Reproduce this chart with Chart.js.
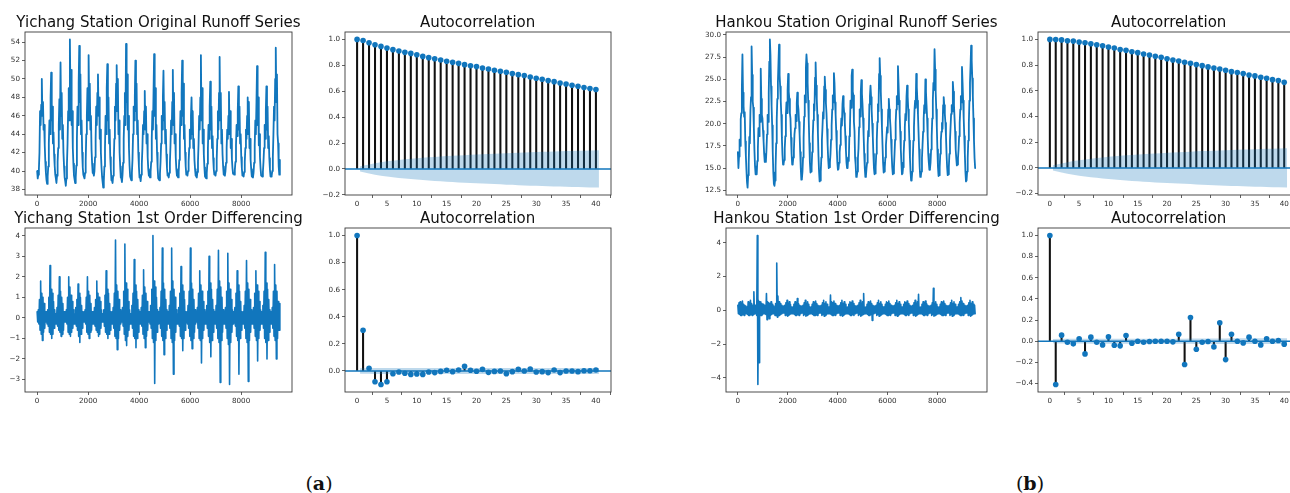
<!DOCTYPE html>
<html>
<head>
<meta charset="utf-8">
<script src="https://cdn.jsdelivr.net/npm/chart.js@4/dist/chart.umd.min.js"></script>
<style>
  html, body { margin: 0; padding: 0; background: #fff; }
  body { width: 1290px; height: 493px; position: relative; overflow: hidden; }
  canvas { position: absolute; }
  .ttl { position: absolute; font-family: "DejaVu Sans"; font-size: 15px; line-height: 15px; color: #111;
         white-space: nowrap; transform: translateX(-50%); }
  .cap { position: absolute; font-family: "DejaVu Serif"; font-size: 19px; line-height: 19px; color: #111;
         white-space: nowrap; transform: translateX(-50%); }
</style>
</head>
<body>
<script>
// ---------------- daily runoff series (16 samples per year, one year per line) ----------------
const SERIES_SPAN = 9520; // days covered by each daily series

const yichangRunoff = [
  40.0, 39.2, 39.6, 40.2, 42.0, 46.5, 45.0, 47.2, 50.0, 46.0, 47.5, 44.5, 45.0, 42.8, 41.0, 39.8,
  39.0, 38.6, 39.4, 40.5, 43.0, 45.5, 44.0, 48.0, 50.7, 45.5, 47.0, 43.0, 44.2, 41.8, 40.6, 39.6,
  39.2, 38.7, 39.5, 41.0, 42.5, 45.0, 47.8, 44.5, 51.8, 46.0, 48.5, 43.5, 45.0, 42.0, 40.5, 39.3,
  38.9, 38.4, 39.2, 40.8, 43.0, 46.5, 49.0, 45.5, 54.3, 48.0, 51.0, 45.0, 46.5, 42.5, 40.8, 39.5,
  39.1, 38.7, 39.3, 40.6, 43.5, 47.0, 45.0, 49.5, 53.6, 47.5, 50.5, 44.0, 45.5, 42.0, 40.4, 39.6,
  39.6, 39.2, 39.8, 41.0, 44.0, 46.0, 49.0, 45.5, 52.6, 47.0, 49.5, 44.5, 46.0, 42.3, 40.8, 39.8,
  39.8, 39.5, 40.0, 41.5, 43.5, 47.0, 45.0, 48.5, 50.5, 46.0, 48.0, 43.5, 44.5, 42.0, 40.5, 39.4,
  38.8, 38.2, 38.9, 40.5, 42.5, 46.0, 44.0, 49.0, 51.6, 45.5, 48.0, 43.0, 44.5, 41.5, 40.2, 39.0,
  39.0, 38.7, 39.5, 41.0, 43.5, 47.0, 45.5, 49.5, 51.5, 46.5, 50.0, 44.0, 45.5, 42.0, 40.5, 39.3,
  39.2, 38.8, 39.6, 40.9, 43.5, 46.0, 48.5, 45.0, 53.8, 47.5, 50.5, 44.5, 46.0, 42.5, 40.6, 39.4,
  39.4, 39.0, 39.8, 41.2, 44.0, 47.0, 45.5, 48.0, 52.0, 46.5, 49.5, 44.0, 45.5, 42.0, 40.5, 39.3,
  39.3, 38.9, 39.6, 40.8, 42.5, 45.0, 44.0, 46.5, 48.7, 44.5, 47.0, 43.0, 44.0, 41.5, 40.2, 39.5,
  39.6, 39.3, 39.9, 41.0, 43.5, 46.5, 44.5, 48.5, 52.7, 46.0, 49.0, 43.5, 45.0, 42.0, 40.4, 39.2,
  39.2, 39.0, 39.7, 41.0, 43.0, 46.0, 44.5, 48.0, 50.9, 45.5, 47.5, 43.0, 44.5, 41.8, 40.3, 39.5,
  39.6, 39.3, 39.8, 40.9, 42.8, 45.5, 44.0, 47.5, 51.0, 45.0, 48.5, 43.0, 44.0, 41.5, 40.2, 39.5,
  39.5, 39.3, 39.9, 41.2, 43.5, 46.5, 45.0, 48.5, 52.0, 46.0, 49.5, 43.5, 45.0, 42.0, 40.5, 39.6,
  39.7, 39.5, 40.0, 41.0, 42.5, 44.5, 43.5, 46.0, 48.0, 44.0, 46.5, 42.5, 43.5, 41.2, 40.2, 39.5,
  39.4, 39.3, 39.9, 41.0, 43.0, 46.0, 44.5, 48.0, 52.6, 45.5, 49.0, 43.0, 44.5, 41.8, 40.4, 39.4,
  39.3, 39.2, 39.8, 40.8, 42.5, 45.0, 43.5, 47.0, 49.7, 44.5, 47.0, 42.5, 43.8, 41.4, 40.2, 39.6,
  39.7, 39.5, 40.0, 41.2, 43.5, 46.5, 44.5, 48.5, 52.4, 45.5, 48.5, 43.0, 44.5, 41.8, 40.5, 39.6,
  39.6, 39.5, 40.0, 40.9, 42.5, 44.5, 43.5, 46.0, 48.6, 44.0, 46.5, 42.5, 43.5, 41.3, 40.3, 39.7,
  39.8, 39.6, 40.1, 41.0, 42.8, 45.0, 43.8, 46.5, 49.2, 44.5, 47.0, 43.0, 44.0, 41.5, 40.3, 39.5,
  39.5, 39.4, 39.9, 41.0, 42.5, 44.5, 43.5, 46.0, 48.0, 44.0, 47.5, 42.5, 43.5, 41.2, 40.2, 39.4,
  39.4, 39.3, 39.8, 40.9, 42.8, 45.5, 44.0, 47.5, 51.4, 45.0, 48.0, 42.8, 44.0, 41.5, 40.3, 39.5,
  39.5, 39.4, 39.9, 41.0, 42.5, 45.0, 43.5, 46.5, 49.2, 44.5, 47.0, 42.5, 43.8, 41.4, 40.2, 39.4,
  39.4, 39.5, 40.0, 41.5, 44.0, 47.0, 45.5, 50.0, 53.4, 47.5, 50.5, 44.0, 43.0, 40.5, 39.6, 41.2
];

const yichangDiff = [
  0.3, -0.2, 0.4, -0.3, 0.9, -0.6, 1.8, -0.8, 1.2, -1.1, 1.0, -0.7, 0.7, -0.5, 0.3, -0.2,
  0.3, -0.3, 0.4, -0.4, 1.0, -0.7, 2.55, -0.8, 1.4, -1.0, 1.2, -0.8, 0.8, -0.5, 0.4, -0.3,
  0.2, -0.3, 0.5, -0.4, 1.1, -0.6, 2.0, -0.7, 1.3, -0.9, 1.0, -0.8, 0.7, -0.6, 0.3, -0.2,
  0.3, -0.2, 0.4, -0.3, 1.0, -0.7, 2.0, -0.8, 1.5, -0.9, 1.1, -0.7, 0.8, -0.5, 0.4, -0.3,
  0.2, -0.3, 0.5, -0.4, 0.9, -0.6, 1.65, -0.9, 1.2, -1.2, 1.0, -0.8, 0.6, -0.5, 0.3, -0.2,
  0.3, -0.2, 0.4, -0.3, 1.0, -0.7, 2.0, -0.8, 1.3, -1.0, 1.1, -0.7, 0.7, -0.6, 0.3, -0.3,
  0.3, -0.3, 0.5, -0.4, 0.9, -0.6, 1.8, -0.7, 1.2, -0.9, 1.0, -0.8, 0.8, -0.5, 0.4, -0.2,
  0.2, -0.2, 0.4, -0.4, 1.1, -0.7, 2.3, -0.8, 1.4, -1.0, 1.2, -0.8, 0.7, -0.6, 0.3, -0.3,
  0.3, -0.3, 0.5, -0.5, 1.2, -0.9, 3.8, -1.0, 1.6, -1.55, 1.3, -1.0, 0.9, -0.6, 0.4, -0.3,
  0.3, -0.2, 0.5, -0.4, 1.3, -0.8, 3.6, -1.1, 1.7, -1.35, 1.4, -0.9, 0.8, -0.6, 0.4, -0.3,
  0.2, -0.3, 0.6, -0.5, 1.2, -0.9, 2.85, -1.0, 1.6, -1.45, 1.3, -1.0, 0.9, -0.7, 0.4, -0.3,
  0.3, -0.3, 0.5, -0.4, 1.1, -0.8, 2.35, -1.0, 1.5, -1.45, 1.2, -0.9, 0.8, -0.6, 0.3, -0.2,
  0.3, -0.3, 0.6, -0.5, 1.4, -1.0, 4.02, -1.2, 1.8, -3.2, 1.5, -1.1, 1.0, -0.7, 0.4, -0.3,
  0.3, -0.2, 0.5, -0.5, 1.3, -0.9, 3.4, -1.1, 1.7, -1.8, 1.4, -1.0, 0.9, -0.6, 0.4, -0.3,
  0.3, -0.3, 0.6, -0.5, 1.3, -1.0, 3.4, -1.2, 1.8, -2.75, 1.4, -1.1, 1.0, -0.7, 0.4, -0.3,
  0.2, -0.3, 0.5, -0.4, 1.2, -0.9, 2.5, -1.0, 1.6, -1.6, 1.3, -1.0, 0.9, -0.6, 0.3, -0.2,
  0.3, -0.3, 0.6, -0.5, 1.3, -0.9, 3.4, -1.1, 1.7, -1.5, 1.4, -1.0, 0.9, -0.7, 0.4, -0.3,
  0.3, -0.2, 0.5, -0.5, 1.2, -1.0, 2.3, -1.1, 1.6, -2.2, 1.3, -1.0, 0.8, -0.6, 0.4, -0.3,
  0.3, -0.3, 0.6, -0.5, 1.3, -0.9, 3.0, -1.2, 1.7, -1.9, 1.4, -1.1, 0.9, -0.7, 0.4, -0.3,
  0.3, -0.3, 0.6, -0.5, 1.4, -1.0, 3.3, -1.2, 1.8, -3.15, 1.5, -1.1, 1.0, -0.7, 0.4, -0.3,
  0.3, -0.3, 0.5, -0.5, 1.3, -1.0, 3.15, -1.3, 1.7, -3.25, 1.4, -1.2, 0.9, -0.7, 0.4, -0.3,
  0.3, -0.2, 0.5, -0.4, 1.2, -0.9, 2.3, -1.1, 1.6, -2.75, 1.3, -1.0, 0.8, -0.6, 0.3, -0.3,
  0.3, -0.3, 0.6, -0.5, 1.3, -1.0, 2.8, -1.2, 1.7, -3.1, 1.4, -1.1, 0.9, -0.7, 0.4, -0.3,
  0.3, -0.3, 0.5, -0.5, 1.2, -0.9, 2.3, -1.1, 1.6, -2.1, 1.3, -1.0, 0.8, -0.6, 0.4, -0.3,
  0.3, -0.3, 0.6, -0.5, 1.3, -1.0, 3.2, -1.2, 1.7, -2.0, 1.4, -1.1, 0.9, -0.7, 0.4, -0.3,
  0.3, -0.3, 0.5, -0.5, 1.3, -0.9, 2.6, -1.1, 1.6, -2.0, 1.3, -1.0, 0.8, -0.6, 0.7, -0.6
];

const hankouRunoff = [
  16.8, 15.0, 16.3, 18.2, 17.5, 20.5, 21.2, 24.0, 27.8, 23.5, 22.0, 20.8, 21.3, 18.0, 16.4, 14.8,
  13.4, 12.8, 14.2, 15.6, 18.5, 17.8, 21.5, 23.0, 28.7, 25.5, 22.5, 21.8, 19.5, 17.0, 15.2, 14.3,
  14.6, 14.3, 15.8, 17.2, 19.5, 18.6, 21.0, 20.2, 26.2, 22.8, 21.0, 20.6, 19.2, 18.0, 16.6, 15.7,
  16.1, 15.7, 17.0, 18.8, 21.0, 20.2, 23.5, 27.0, 29.5, 27.8, 24.2, 22.0, 19.8, 16.8, 14.5, 13.2,
  13.0, 13.6, 15.2, 17.8, 20.5, 22.8, 24.6, 26.8, 28.9, 25.5, 24.2, 22.6, 21.0, 18.4, 16.5, 15.4,
  15.5, 15.9, 17.2, 18.6, 21.0, 22.4, 21.2, 23.8, 25.6, 23.6, 22.8, 21.2, 20.6, 18.4, 16.6, 15.4,
  15.5, 16.2, 17.0, 18.8, 19.5, 21.0, 20.3, 22.3, 23.5, 22.2, 21.6, 20.2, 18.8, 16.8, 15.0, 13.7,
  13.8, 14.6, 16.2, 18.4, 20.8, 23.2, 22.4, 26.3, 27.8, 26.8, 24.6, 22.6, 20.4, 17.8, 15.6, 14.5,
  14.6, 15.1, 16.8, 18.6, 20.4, 22.2, 21.5, 25.2, 26.9, 24.3, 22.8, 21.0, 19.0, 16.4, 14.6, 13.5,
  13.6, 14.6, 16.2, 18.2, 19.6, 21.3, 20.6, 24.2, 25.3, 23.8, 22.3, 21.2, 19.4, 17.6, 16.0, 15.0,
  15.1, 15.6, 16.6, 18.2, 19.8, 21.6, 23.2, 22.4, 25.7, 24.6, 22.4, 21.0, 19.2, 17.2, 15.6, 14.8,
  14.9, 15.6, 16.8, 17.6, 19.2, 20.6, 19.8, 22.2, 23.1, 22.0, 21.2, 20.2, 18.6, 17.0, 15.6, 15.0,
  15.1, 16.2, 15.8, 18.6, 19.4, 22.6, 21.8, 25.4, 26.1, 23.6, 23.2, 20.2, 19.2, 16.2, 15.4, 14.0,
  14.1, 14.6, 16.1, 17.2, 19.6, 21.6, 20.8, 23.6, 24.9, 23.4, 22.2, 20.6, 18.6, 16.6, 15.0, 14.0,
  14.1, 15.0, 15.6, 17.6, 19.2, 18.6, 22.2, 23.1, 24.3, 23.0, 21.6, 20.0, 18.6, 16.6, 15.0, 14.3,
  14.4, 15.1, 16.6, 18.2, 20.2, 22.2, 21.4, 25.6, 27.4, 25.4, 23.6, 21.6, 19.6, 17.6, 15.6, 14.5,
  14.6, 15.1, 16.2, 17.6, 18.6, 19.6, 19.0, 21.6, 22.8, 21.6, 20.6, 19.6, 18.2, 16.6, 15.1, 14.3,
  14.4, 15.1, 16.6, 18.2, 20.1, 21.6, 23.1, 22.2, 26.5, 24.6, 22.6, 21.1, 19.1, 17.1, 15.6, 14.3,
  14.4, 15.1, 16.6, 18.1, 19.6, 21.1, 20.4, 23.1, 24.3, 23.1, 21.6, 20.1, 18.1, 16.1, 14.6, 13.6,
  13.7, 14.6, 16.1, 18.1, 19.6, 21.6, 22.6, 21.8, 25.6, 24.1, 22.6, 21.1, 19.1, 17.1, 15.1, 14.0,
  14.1, 14.6, 16.1, 17.6, 19.1, 20.6, 22.1, 21.2, 25.0, 23.6, 22.1, 20.6, 18.6, 16.6, 15.6, 14.8,
  14.9, 15.6, 17.1, 18.6, 20.6, 22.6, 24.6, 23.8, 28.4, 26.1, 23.6, 21.6, 19.6, 17.1, 15.1, 14.1,
  14.2, 15.1, 16.6, 18.1, 19.1, 20.1, 19.4, 22.1, 23.0, 22.1, 21.1, 20.1, 18.6, 16.6, 15.1, 14.2,
  14.3, 15.1, 16.6, 18.1, 19.6, 21.1, 22.1, 21.4, 24.7, 23.6, 22.1, 20.6, 19.1, 17.1, 16.1, 15.3,
  15.4, 16.1, 17.1, 18.6, 20.1, 21.6, 23.1, 22.4, 26.4, 24.6, 22.6, 20.6, 18.6, 16.6, 14.6, 13.5,
  13.6, 14.6, 16.1, 18.1, 20.1, 22.6, 24.6, 26.6, 28.8, 27.1, 25.1, 23.1, 20.6, 18.1, 16.1, 15.0
];

const hankouDiff = [
  0.3, -0.2, 0.45, -0.25, 0.5, -0.3, 0.4, -0.3, 0.55, -0.25, 0.35, -0.3, 0.3, -0.2, 0.25, -0.2,
  0.2, -0.25, 0.5, -0.3, 0.45, -0.3, 0.6, -0.25, 0.4, -0.3, 0.3, -0.25, 1.1, -0.2, 0.3, -0.2,
  0.3, -0.3, 4.43, -4.39, 0.6, -3.1, 0.5, -0.3, 0.5, -0.3, 0.4, -0.25, 0.35, -0.2, 0.3, -0.2,
  0.25, -0.25, 1.0, -0.55, 0.5, -0.3, 0.45, -0.5, 0.4, -0.3, 0.5, -0.25, 0.35, -0.2, 0.25, -0.2,
  0.2, -0.3, 0.4, -0.3, 2.8, -0.4, 0.85, -0.3, 0.5, -0.3, 0.4, -0.25, 0.3, -0.2, 0.25, -0.15,
  0.25, -0.15, 0.3, -0.3, 0.45, -0.25, 0.6, -0.35, 0.4, -0.3, 0.5, -0.25, 0.35, -0.2, 0.2, -0.2,
  0.2, -0.2, 0.35, -0.25, 0.5, -0.3, 0.45, -0.3, 0.7, -0.25, 0.4, -0.3, 0.3, -0.2, 0.25, -0.15,
  0.25, -0.15, 0.3, -0.3, 0.45, -0.25, 0.6, -0.35, 0.4, -0.3, 0.5, -0.25, 0.35, -0.2, 0.2, -0.2,
  0.2, -0.2, 0.35, -0.25, 0.5, -0.3, 0.45, -0.3, 0.55, -0.25, 0.4, -0.3, 0.3, -0.2, 0.25, -0.15,
  0.25, -0.15, 0.3, -0.3, 0.45, -0.25, 0.6, -0.35, 0.4, -0.3, 0.5, -0.25, 0.35, -0.2, 0.2, -0.2,
  0.2, -0.2, 0.9, -0.25, 0.5, -0.3, 0.45, -0.3, 0.55, -0.25, 0.4, -0.3, 0.3, -0.2, 0.25, -0.15,
  0.25, -0.15, 0.3, -0.3, 0.45, -0.25, 0.6, -0.35, 0.4, -0.3, 0.5, -0.25, 0.35, -0.2, 0.2, -0.2,
  0.2, -0.2, 0.35, -0.25, 0.5, -0.3, 0.45, -0.3, 0.55, -0.25, 0.4, -0.3, 0.3, -0.2, 0.25, -0.15,
  0.25, -0.15, 0.3, -0.3, 0.45, -0.25, 0.6, -0.35, 0.4, -0.3, 0.5, -0.25, 1.0, -0.2, 0.2, -0.2,
  0.2, -0.2, 0.35, -0.25, 0.5, -0.3, 0.45, -0.3, 0.55, -0.25, 0.4, -0.6, 0.3, -0.2, 0.25, -0.15,
  0.25, -0.15, 0.3, -0.3, 0.45, -0.25, 0.6, -0.35, 0.4, -0.3, 0.5, -0.25, 0.35, -0.2, 0.2, -0.2,
  0.2, -0.2, 0.35, -0.25, 0.5, -0.3, 0.45, -0.3, 0.55, -0.25, 0.4, -0.3, 0.3, -0.2, 0.25, -0.15,
  0.25, -0.15, 0.3, -0.3, 0.45, -0.25, 0.6, -0.35, 0.4, -0.3, 0.5, -0.25, 0.35, -0.2, 0.2, -0.2,
  0.2, -0.2, 0.35, -0.25, 0.5, -0.3, 0.45, -0.3, 0.55, -0.25, 0.4, -0.3, 0.3, -0.2, 0.25, -0.15,
  0.25, -0.15, 0.3, -0.3, 0.45, -0.25, 0.6, -0.35, 0.4, -0.3, 0.5, -0.25, 0.95, -0.2, 0.2, -0.2,
  0.2, -0.2, 0.35, -0.25, 0.5, -0.3, 0.45, -0.3, 0.55, -0.25, 0.4, -0.3, 0.3, -0.2, 0.25, -0.15,
  0.25, -0.15, 0.3, -0.3, 0.45, -0.25, 1.3, -0.35, 0.4, -0.3, 0.5, -0.25, 0.35, -0.2, 0.2, -0.2,
  0.2, -0.2, 0.35, -0.25, 0.5, -0.3, 0.45, -0.3, 0.55, -0.25, 0.4, -0.3, 0.3, -0.2, 0.25, -0.15,
  0.25, -0.15, 0.3, -0.3, 0.45, -0.25, 0.6, -0.35, 0.4, -0.3, 0.5, -0.25, 0.35, -0.2, 0.2, -0.2,
  0.2, -0.2, 0.35, -0.25, 0.5, -0.3, 0.75, -0.3, 0.55, -0.25, 0.4, -0.3, 0.3, -0.2, 0.25, -0.15,
  0.25, -0.15, 0.3, -0.3, 0.45, -0.25, 0.6, -0.35, 0.4, -0.3, 0.5, -0.25, 0.35, -0.2, 0.3, -0.2
];

// ---------------- autocorrelation (lags 0..40) and confidence half-widths (lags 1..40) ----------------
const lags = [0,1,2,3,4,5,6,7,8,9,10,11,12,13,14,15,16,17,18,19,20,21,22,23,24,25,26,27,28,29,30,31,32,33,34,35,36,37,38,39,40];

const yichangRunoffAcf = [1.000, 0.992, 0.974, 0.959, 0.946, 0.933, 0.921, 0.910, 0.900, 0.892, 0.882, 0.869, 0.859, 0.851,
  0.841, 0.831, 0.823, 0.815, 0.805, 0.797, 0.790, 0.779, 0.772, 0.762, 0.754, 0.746, 0.736, 0.728, 0.721, 0.710, 0.700,
  0.692, 0.682, 0.674, 0.664, 0.656, 0.646, 0.638, 0.628, 0.621, 0.613];
const yichangRunoffConf = [0.020, 0.035, 0.044, 0.052, 0.059, 0.064, 0.069, 0.074, 0.078, 0.082, 0.086, 0.090, 0.093, 0.096,
  0.099, 0.101, 0.104, 0.106, 0.109, 0.111, 0.113, 0.115, 0.117, 0.119, 0.122, 0.123, 0.125, 0.127, 0.129, 0.130, 0.132,
  0.133, 0.135, 0.136, 0.138, 0.139, 0.140, 0.141, 0.143, 0.144];

const yichangDiffAcf = [1.000, 0.301, 0.020, -0.079, -0.100, -0.079, -0.020, -0.007, -0.017, -0.025, -0.022, -0.025, -0.007,
  -0.012, -0.003, 0.005, -0.005, 0.007, 0.035, 0.005, -0.002, 0.012, -0.010, -0.003, 0.000, -0.020, -0.005, 0.012, 0.000,
  0.015, -0.007, -0.005, -0.012, 0.007, -0.012, 0.000, 0.000, -0.005, 0.002, 0.002, 0.007];
const yichangDiffConf = [0.020, 0.021, 0.022, 0.022, 0.022, 0.022, 0.022, 0.022, 0.022, 0.022, 0.022, 0.022, 0.022, 0.022,
  0.022, 0.022, 0.022, 0.022, 0.022, 0.022, 0.022, 0.022, 0.022, 0.022, 0.022, 0.022, 0.022, 0.022, 0.022, 0.022, 0.022,
  0.022, 0.022, 0.022, 0.022, 0.022, 0.022, 0.022, 0.022, 0.022];

const hankouRunoffAcf = [1.000, 0.999, 0.996, 0.990, 0.987, 0.979, 0.974, 0.966, 0.959, 0.951, 0.941, 0.933, 0.922, 0.915,
  0.904, 0.897, 0.886, 0.879, 0.868, 0.861, 0.850, 0.840, 0.832, 0.822, 0.814, 0.804, 0.796, 0.786, 0.778, 0.770, 0.760,
  0.749, 0.742, 0.734, 0.723, 0.716, 0.705, 0.698, 0.687, 0.680, 0.666];
const hankouRunoffConf = [0.020, 0.035, 0.045, 0.053, 0.060, 0.066, 0.072, 0.077, 0.082, 0.086, 0.090, 0.094, 0.098, 0.101,
  0.104, 0.107, 0.110, 0.113, 0.115, 0.118, 0.120, 0.122, 0.124, 0.126, 0.129, 0.131, 0.132, 0.134, 0.136, 0.138, 0.140,
  0.141, 0.143, 0.144, 0.146, 0.147, 0.149, 0.150, 0.151, 0.153];

const hankouDiffAcf = [1.000, -0.410, 0.057, -0.010, -0.025, 0.022, -0.120, 0.038, -0.010, -0.035, 0.041, -0.038, -0.044,
  0.054, -0.019, 0.000, -0.010, -0.003, 0.000, 0.000, 0.000, -0.006, 0.066, -0.221, 0.224, -0.076, -0.010, -0.003, -0.054,
  0.174, -0.174, 0.066, 0.000, -0.016, 0.038, 0.000, -0.035, 0.022, 0.000, 0.006, -0.028];
const hankouDiffConf = [0.020, 0.023, 0.023, 0.023, 0.023, 0.023, 0.024, 0.024, 0.024, 0.024, 0.024, 0.024, 0.024, 0.024,
  0.024, 0.024, 0.024, 0.024, 0.024, 0.024, 0.024, 0.024, 0.024, 0.025, 0.026, 0.026, 0.026, 0.026, 0.026, 0.026, 0.027,
  0.027, 0.027, 0.027, 0.027, 0.027, 0.027, 0.027, 0.027, 0.027];

// ---------------- tick labels ----------------
const dayTicks = [0, 2000, 4000, 6000, 8000];
const lagTicks = [0, 5, 10, 15, 20, 25, 30, 35, 40];
const yichangRunoffTicks = [38, 40, 42, 44, 46, 48, 50, 52, 54];
const yichangDiffTicks = [-3, -2, -1, 0, 1, 2, 3, 4];
const hankouRunoffTicks = [12.5, 15.0, 17.5, 20.0, 22.5, 25.0, 27.5, 30.0];
const hankouDiffTicks = [-4, -2, 0, 2, 4];
const acfLevelTicks = [-0.2, 0.0, 0.2, 0.4, 0.6, 0.8, 1.0];
const yichangDiffAcfTicks = [0.0, 0.2, 0.4, 0.6, 0.8, 1.0];
const hankouDiffAcfTicks = [-0.4, -0.2, 0.0, 0.2, 0.4, 0.6, 0.8, 1.0];

// ---------------- drawing ----------------
const BLUE = '#1176bd';
const BAND = 'rgba(22,119,187,0.28)';
const FONT = 'DejaVu Sans';

function fmt(v, d) {
  const s = Math.abs(v).toFixed(d);
  return v < -1e-9 ? '\u2212' + s : s;
}
function padRange(lo, hi) {
  const m = (hi - lo) * 0.05;
  return [lo - m, hi + m];
}

// axes frame on all four sides
const framePlugin = {
  id: 'frame',
  afterDatasetsDraw(chart) {
    const a = chart.chartArea, c = chart.ctx;
    c.save();
    c.strokeStyle = '#3a3a3a';
    c.lineWidth = 0.9;
    c.strokeRect(a.left, a.top, a.right - a.left, a.bottom - a.top);
    c.restore();
  }
};

function addText(cls, text, x, top) {
  const d = document.createElement('div');
  d.className = cls;
  d.innerHTML = text;
  d.style.left = x + 'px';
  d.style.top = top + 'px';
  document.body.appendChild(d);
}

function makePanel(box, title, datasets, xRange, yRange, xTicks, yTicks, yDec) {
  const PADL = 40, PADT = 8, PADR = 4, PADB = 20;
  const w = Math.round(box.r - box.l), h = Math.round(box.b - box.t);
  const cv = document.createElement('canvas');
  cv.width = w + PADL + PADR;
  cv.height = h + PADT + PADB;
  cv.style.left = (box.l - PADL) + 'px';
  cv.style.top = (box.t - PADT) + 'px';
  document.body.appendChild(cv);
  addText('ttl', title, box.l + w / 2, box.t - 4.3 - 12.7);

  const tickFont = { family: FONT, size: 7.2 };
  const axis = (range, ticks, dec, fit) => ({
    type: 'linear', min: range[0], max: range[1], offset: false,
    border: { display: false },
    grid: { drawOnChartArea: false, drawTicks: true, tickLength: 3, color: '#3a3a3a', lineWidth: 0.8 },
    ticks: { font: tickFont, color: '#2e2e2e', padding: 2, autoSkip: false, maxRotation: 0,
             callback: v => fmt(v, dec) },
    afterBuildTicks: s => { s.ticks = ticks.map(v => ({ value: v })); },
    afterFit: fit
  });

  new Chart(cv, {
    type: 'line',
    data: { datasets },
    options: {
      responsive: false, animation: false, devicePixelRatio: 1, events: [],
      layout: { padding: { left: 0, top: PADT, right: PADR, bottom: 0 } },
      plugins: { legend: { display: false }, tooltip: { enabled: false } },
      scales: {
        x: axis(xRange, xTicks, 0, s => { s.height = PADB; }),
        y: axis(yRange, yTicks, yDec, s => { s.width = PADL; })
      }
    },
    plugins: [framePlugin]
  });
}

function seriesPanel(box, title, values, ticks, dec, lineWidth) {
  const step = SERIES_SPAN / (values.length - 1);
  const pts = values.map((v, i) => ({ x: i * step, y: v }));
  const ds = [{
    data: pts, borderColor: BLUE, borderWidth: lineWidth, pointRadius: 0, tension: 0, fill: false,
    borderJoinStyle: 'round', borderCapStyle: 'round'
  }];
  makePanel(box, title, ds, padRange(0, SERIES_SPAN),
            padRange(Math.min(...values), Math.max(...values)), dayTicks, ticks, dec);
}

function acfPanel(box, acf, conf, ticks) {
  // band spans lag 1..40, widened by half a lag at each end
  const bandX = lags.slice(1).map((l, i, a) => i === 0 ? l - 0.5 : (i === a.length - 1 ? l + 0.5 : l));
  const xr = padRange(Math.min(lags[0], bandX[0]), Math.max(lags[lags.length - 1], bandX[bandX.length - 1]));
  const lo = Math.min(...acf, ...conf.map(v => -v)), hi = Math.max(...acf, ...conf);
  const yr = padRange(lo, hi);
  const ds = [
    { data: bandX.map((x, i) => ({ x, y: conf[i] })), borderColor: 'transparent', borderWidth: 0,
      pointRadius: 0, fill: '+1', backgroundColor: BAND, order: 0 },
    { data: bandX.map((x, i) => ({ x, y: -conf[i] })), borderColor: 'transparent', borderWidth: 0,
      pointRadius: 0, fill: false, order: 0 },
    { data: lags.map((l, i) => ({ x: l, y: acf[i] })), showLine: false, pointRadius: 2.8,
      pointBackgroundColor: BLUE, pointBorderWidth: 0, order: 1 },
    { data: [{ x: xr[0], y: 0 }, { x: xr[1], y: 0 }], borderColor: BLUE, borderWidth: 1.5,
      pointRadius: 0, order: 2 },
    { type: 'bar', data: lags.map((l, i) => ({ x: l, y: acf[i] })), backgroundColor: '#111',
      barThickness: 1.4, grouped: false, borderWidth: 0, order: 3 }
  ];
  makePanel(box, 'Autocorrelation', ds, xr, yr, lagTicks, ticks, 1);
}

const ROW1 = { t: 31.7, b: 194.3 }, ROW2 = { t: 227.7, b: 391.3 };

seriesPanel({ l: 25, r: 292, ...ROW1 }, 'Yichang Station Original Runoff Series', yichangRunoff, yichangRunoffTicks, 0, 1.8);
acfPanel({ l: 344.6, r: 610.8, ...ROW1 }, yichangRunoffAcf, yichangRunoffConf, acfLevelTicks);
seriesPanel({ l: 25, r: 292, ...ROW2 }, 'Yichang Station 1st Order Differencing', yichangDiff, yichangDiffTicks, 0, 1.6);
acfPanel({ l: 344.6, r: 610.8, ...ROW2 }, yichangDiffAcf, yichangDiffConf, yichangDiffAcfTicks);

seriesPanel({ l: 726, r: 986.7, ...ROW1 }, 'Hankou Station Original Runoff Series', hankouRunoff, hankouRunoffTicks, 1, 1.8);
acfPanel({ l: 1038.2, r: 1298.8, ...ROW1 }, hankouRunoffAcf, hankouRunoffConf, acfLevelTicks);
seriesPanel({ l: 726, r: 986.7, ...ROW2 }, 'Hankou Station 1st Order Differencing', hankouDiff, hankouDiffTicks, 0, 1.6);
acfPanel({ l: 1038.2, r: 1298.8, ...ROW2 }, hankouDiffAcf, hankouDiffConf, hankouDiffAcfTicks);

addText('cap', '(<b>a</b>)', 319, 473.9);
addText('cap', '(<b>b</b>)', 1030, 473.9);
</script>
</body>
</html>
